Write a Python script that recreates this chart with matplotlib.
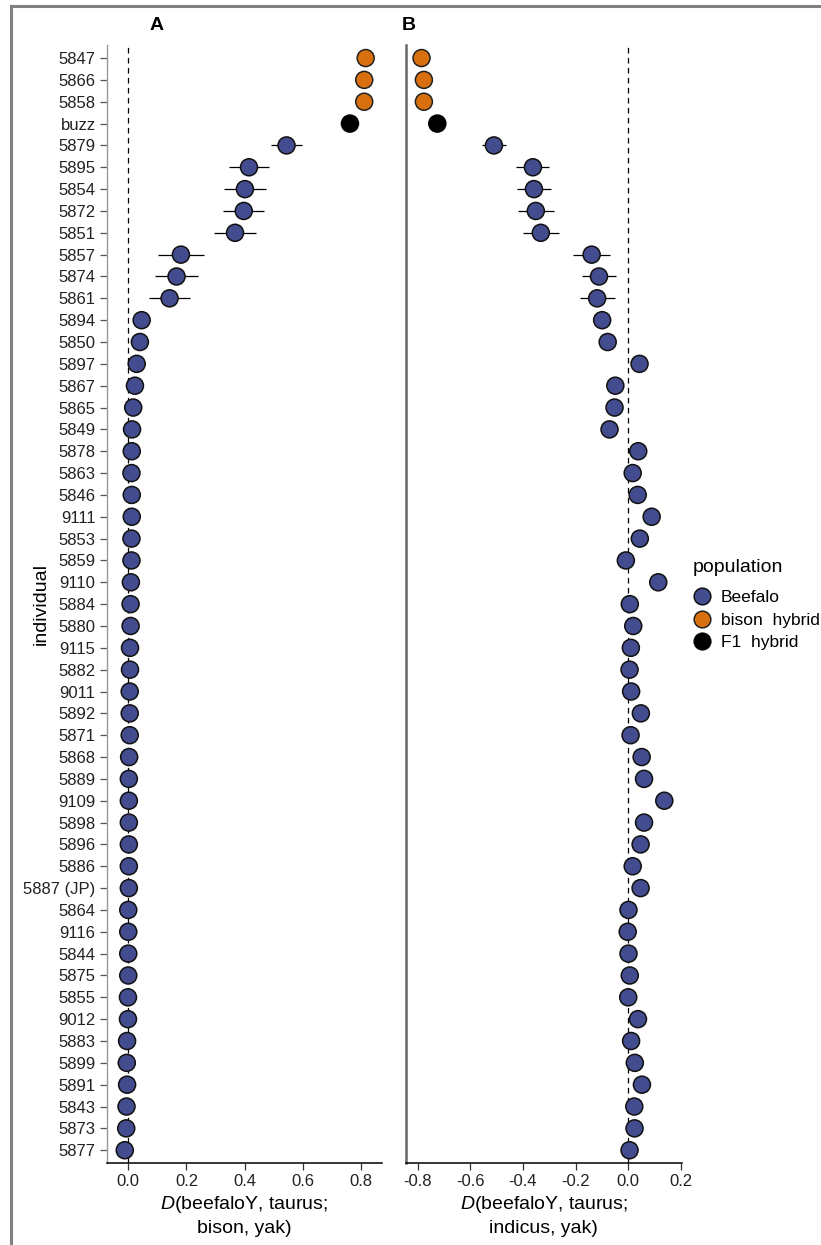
import numpy as np
import matplotlib
matplotlib.use("Agg")
import matplotlib.pyplot as plt
from matplotlib.lines import Line2D
from matplotlib.patches import Rectangle

plt.rcParams['font.family'] = ['Liberation Sans', 'DejaVu Sans']
plt.rcParams['mathtext.fontset'] = 'custom'
plt.rcParams['mathtext.it'] = 'Liberation Sans:italic'
plt.rcParams['mathtext.rm'] = 'Liberation Sans'

# individuals, top to bottom
individuals = ['5847', '5866', '5858', 'buzz', '5879', '5895', '5854', '5872', '5851',
               '5857', '5874', '5861', '5894', '5850', '5897', '5867', '5865', '5849',
               '5878', '5863', '5846', '9111', '5853', '5859', '9110', '5884', '5880',
               '9115', '5882', '9011', '5892', '5871', '5868', '5889', '9109', '5898',
               '5896', '5886', '5887 (JP)', '5864', '9116', '5844', '5875', '5855',
               '9012', '5883', '5899', '5891', '5843', '5873', '5877']

population = ['bison hybrid'] * 3 + ['F1 hybrid'] + ['Beefalo'] * 47

# D(beefaloY, taurus; bison, yak)
d_bison = [0.816, 0.811, 0.811, 0.762, 0.544, 0.415, 0.401, 0.397, 0.367,
           0.181, 0.166, 0.142, 0.046, 0.040, 0.029, 0.023, 0.017, 0.013,
           0.012, 0.011, 0.012, 0.012, 0.011, 0.011, 0.009, 0.008, 0.008,
           0.006, 0.006, 0.005, 0.005, 0.005, 0.003, 0.002, 0.002, 0.002,
           0.002, 0.002, 0.002, 0.000, 0.000, 0.000, 0.000, -0.001,
           -0.001, -0.004, -0.005, -0.004, -0.006, -0.007, -0.012]
err_bison = [0.0, 0.0, 0.0, 0.0, 0.052, 0.070, 0.072, 0.070, 0.072,
             0.078, 0.073, 0.070, 0.008, 0.008, 0.008, 0.008, 0.008, 0.008,
             0.006, 0.006, 0.006, 0.006, 0.006, 0.006, 0.006, 0.006, 0.006,
             0.006, 0.006, 0.006, 0.006, 0.006, 0.006, 0.006, 0.006, 0.006,
             0.006, 0.006, 0.006, 0.006, 0.006, 0.006, 0.006, 0.006,
             0.006, 0.006, 0.006, 0.006, 0.006, 0.006, 0.006]

# D(beefaloY, taurus; indicus, yak)
d_indicus = [-0.785, -0.776, -0.776, -0.725, -0.510, -0.362, -0.358, -0.351, -0.332,
             -0.139, -0.111, -0.118, -0.099, -0.078, 0.043, -0.049, -0.052, -0.071,
             0.038, 0.017, 0.036, 0.089, 0.044, -0.009, 0.114, 0.006, 0.019,
             0.010, 0.005, 0.011, 0.048, 0.009, 0.051, 0.060, 0.137, 0.060,
             0.047, 0.017, 0.047, 0.001, -0.002, 0.001, 0.006, 0.000,
             0.037, 0.011, 0.025, 0.052, 0.023, 0.024, 0.005]
err_indicus = [0.0, 0.0, 0.0, 0.0, 0.045, 0.063, 0.065, 0.068, 0.068,
               0.070, 0.065, 0.066, 0.012, 0.012, 0.012, 0.012, 0.012, 0.012,
               0.012, 0.012, 0.012, 0.012, 0.012, 0.012, 0.012, 0.012, 0.012,
               0.012, 0.012, 0.012, 0.012, 0.012, 0.012, 0.012, 0.012, 0.012,
               0.012, 0.012, 0.012, 0.012, 0.012, 0.012, 0.012, 0.012,
               0.012, 0.012, 0.012, 0.012, 0.012, 0.012, 0.012]

pop_order = ['Beefalo', 'bison hybrid', 'F1 hybrid']
pop_labels = ['Beefalo', 'bison  hybrid', 'F1  hybrid']
pop_colors = {'Beefalo': '#434C8E', 'bison hybrid': '#D9700F', 'F1 hybrid': '#000000'}
pop_edges = {'Beefalo': '#111111', 'bison hybrid': '#222222', 'F1 hybrid': '#000000'}

ypos = np.arange(len(individuals))
fill = [pop_colors[p] for p in population]
edge = [pop_edges[p] for p in population]


def draw_panel(ax, values, errors, ticks, xlim, xlabel, show_y):
    ax.axvline(0, color='black', linestyle=(0, (4.5, 3.5)), linewidth=0.9, zorder=1)
    ax.errorbar(values, ypos, xerr=errors, fmt='none', ecolor='black',
                elinewidth=0.9, capsize=0, zorder=2)
    ax.scatter(values, ypos, s=150, c=fill, edgecolors=edge, linewidths=1.1, zorder=3)
    ax.set_ylim(len(individuals) - 0.4, -0.6)
    ax.set_xlim(*xlim)
    ax.set_xticks(ticks)
    ax.set_xticklabels([f'{t:.1f}' for t in ticks])
    ax.tick_params(axis='x', length=5, width=0.9, color='#333333',
                   labelsize=12, labelcolor='#222222', pad=3)
    for side in ['top', 'right']:
        ax.spines[side].set_visible(False)
    ax.spines['bottom'].set_color('black')
    ax.spines['bottom'].set_linewidth(1.1)
    ax.set_xlabel(xlabel, fontsize=14, labelpad=3, linespacing=1.45)
    if show_y:
        ax.set_yticks(ypos)
        ax.set_yticklabels(individuals)
        ax.tick_params(axis='y', length=5, width=0.9, color='#555555',
                       labelsize=12, labelcolor='#222222', pad=3)
        ax.spines['left'].set_color('#999999')
        ax.spines['left'].set_linewidth(1.0)
        ax.set_ylabel('individual', fontsize=14)
        ax.yaxis.set_label_coords(-0.206, 0.5)
    else:
        ax.set_yticks([])
        ax.spines['left'].set_color('#666666')
        ax.spines['left'].set_linewidth(1.8)


fig = plt.figure(figsize=(8.21, 12.45), dpi=100)
ax_a = fig.add_axes([0.130, 0.0656, 0.3356, 0.8983])
ax_b = fig.add_axes([0.4945, 0.0656, 0.3358, 0.8983])

draw_panel(ax_a, d_bison, err_bison, [0.0, 0.2, 0.4, 0.6, 0.8], (-0.074, 0.873),
           '$\\it{D}$(beefaloY, taurus;\nbison, yak)', True)
draw_panel(ax_b, d_indicus, err_indicus, [-0.8, -0.6, -0.4, -0.2, 0.0, 0.2], (-0.844, 0.203),
           '$\\it{D}$(beefaloY, taurus;\nindicus, yak)', False)

fig.text(157 / 821, 1 - 25 / 1245, 'A', fontsize=14, fontweight='bold', ha='center', va='center')
fig.text(409 / 821, 1 - 25 / 1245, 'B', fontsize=14, fontweight='bold', ha='center', va='center')

# legend: title as its own text, keys below it
fig.text(693 / 821, 1 - 568 / 1245, 'population', fontsize=14, ha='left', va='center')
handles = [Line2D([], [], linestyle='none', marker='o', markersize=12,
                  markerfacecolor=pop_colors[p], markeredgecolor=pop_edges[p],
                  markeredgewidth=1.1) for p in pop_order]
fig.legend(handles, pop_labels, loc='upper left',
           bbox_to_anchor=(0.842, 1 - 590 / 1245), frameon=False, fontsize=12.5,
           handletextpad=0.5, labelspacing=0.42, borderaxespad=0,
           borderpad=0, handlelength=1.2)

# outer frame
fig.patches.append(Rectangle((11 / 821, -0.1), 1.2, 1 - 6 / 1245 + 0.1,
                             transform=fig.transFigure, fill=False,
                             edgecolor='#808080', linewidth=2.2))

fig.savefig('out.png', dpi=100)
